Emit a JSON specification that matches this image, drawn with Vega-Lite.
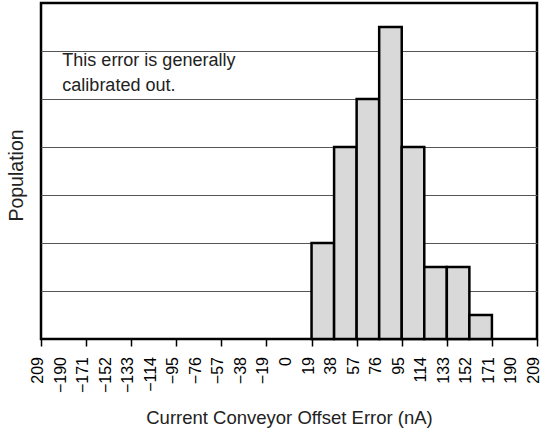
{
  "$schema": "https://vega.github.io/schema/vega-lite/v6.json",
  "autosize": "none",
  "width": 496,
  "height": 336,
  "padding": {"left": 41, "top": 3, "right": 6, "bottom": 92},
  "background": "white",
  "config": {
    "font": "Liberation Sans",
    "view": {"stroke": "black", "strokeWidth": 2.5}
  },
  "layer": [
    {
      "data": {"values": [
        {"start": 19, "end": 38, "count": 4},
        {"start": 38, "end": 57, "count": 8},
        {"start": 57, "end": 76, "count": 10},
        {"start": 76, "end": 95, "count": 13},
        {"start": 95, "end": 114, "count": 8},
        {"start": 114, "end": 133, "count": 3},
        {"start": 133, "end": 152, "count": 3},
        {"start": 152, "end": 171, "count": 1}
      ]},
      "mark": {"type": "rect", "fill": "#d9d9d9", "stroke": "black", "strokeWidth": 2.5},
      "encoding": {
        "x": {
          "field": "start", "type": "quantitative",
          "scale": {"domain": [-209, 209], "nice": false, "zero": false},
          "axis": {
            "values": [-209, -190, -171, -152, -133, -114, -95, -76, -57, -38, -19, 0, 19, 38, 57, 76, 95, 114, 133, 152, 171, 190, 209],
            "labels": false,
            "ticks": true,
            "tickColor": "black",
            "tickWidth": 1.5,
            "tickSize": 7,
            "domain": false,
            "grid": false,
            "title": "Current Conveyor Offset Error (nA)",
            "titleFontSize": 18.5,
            "titleFontWeight": "normal",
            "titleColor": "#222",
            "titleY": 69,
            "titleBaseline": "top"
          }
        },
        "x2": {"field": "end"},
        "y": {
          "field": "count", "type": "quantitative",
          "scale": {"domain": [0, 14], "nice": false},
          "axis": {
            "values": [2, 4, 6, 8, 10, 12],
            "labels": false,
            "ticks": false,
            "domain": false,
            "grid": true,
            "gridColor": "#555",
            "gridWidth": 1.2,
            "gridOpacity": 1,
            "title": "Population",
            "titleFontSize": 19.5,
            "titleFontWeight": "normal",
            "titleColor": "#222",
            "titleX": -19,
            "titleY": 172,
            "titleBaseline": "alphabetic"
          }
        },
        "y2": {"datum": 0}
      }
    },
    {
      "data": {"values": [
        {"tick": -209, "label": "209"},
        {"tick": -190, "label": "\u2212190"},
        {"tick": -171, "label": "\u2212171"},
        {"tick": -152, "label": "\u2212152"},
        {"tick": -133, "label": "\u2212133"},
        {"tick": -114, "label": "\u2212114"},
        {"tick": -95, "label": "\u221295"},
        {"tick": -76, "label": "\u221276"},
        {"tick": -57, "label": "\u221257"},
        {"tick": -38, "label": "\u221238"},
        {"tick": -19, "label": "\u221219"},
        {"tick": 0, "label": "0"},
        {"tick": 19, "label": "19"},
        {"tick": 38, "label": "38"},
        {"tick": 57, "label": "57"},
        {"tick": 76, "label": "76"},
        {"tick": 95, "label": "95"},
        {"tick": 114, "label": "114"},
        {"tick": 133, "label": "133"},
        {"tick": 152, "label": "152"},
        {"tick": 171, "label": "171"},
        {"tick": 190, "label": "190"},
        {"tick": 209, "label": "209"}
      ]},
      "mark": {"type": "text", "angle": 270, "align": "right", "baseline": "middle", "fontSize": 16, "color": "black", "dx": -18, "dy": -3},
      "encoding": {
        "x": {"field": "tick", "type": "quantitative"},
        "y": {"datum": 0, "type": "quantitative"},
        "text": {"field": "label"}
      }
    },
    {
      "data": {"values": [{"x": -191, "y": 11.97, "note": ["This error is generally", "calibrated out."]}]},
      "mark": {"type": "text", "align": "left", "baseline": "top", "fontSize": 18, "lineHeight": 25, "color": "#222"},
      "encoding": {
        "x": {"field": "x", "type": "quantitative"},
        "y": {"field": "y", "type": "quantitative"},
        "text": {"field": "note"}
      }
    }
  ]
}
